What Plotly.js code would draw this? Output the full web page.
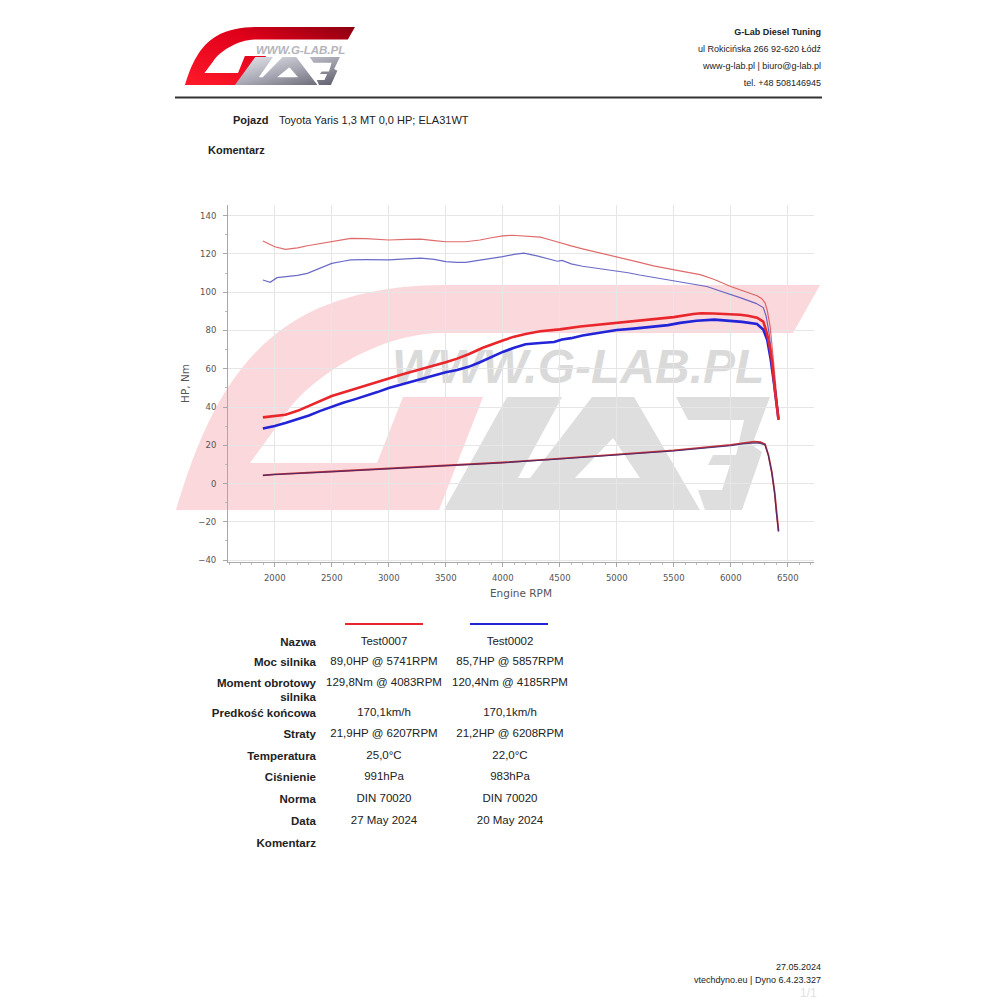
<!DOCTYPE html>
<html>
<head>
<meta charset="utf-8">
<script src="https://cdn.plot.ly/plotly-3.0.1.min.js"></script>
<style>
  html, body { margin:0; padding:0; background:#fff; }
  #page { position:relative; width:1000px; height:1000px; overflow:hidden; background:#fff; font-family:"Liberation Sans", Arial, sans-serif; color:#222; }
  #deco { position:absolute; left:0; top:0; }
  #plot { position:absolute; left:0; top:0; width:1000px; height:1000px; }
  .t { position:absolute; white-space:nowrap; line-height:1; }
  .r { text-align:right; }
  .c { text-align:center; }
  .b { font-weight:bold; }
</style>
</head>
<body>
<div id="page">
<svg id="deco" width="1000" height="1000" viewBox="0 0 1000 1000">
  <defs>
    <linearGradient id="gRed" x1="0" y1="1" x2="1" y2="0">
      <stop offset="0" stop-color="#ff1a2a"/>
      <stop offset="0.6" stop-color="#e0001a"/>
      <stop offset="1" stop-color="#8a0010"/>
    </linearGradient>
    <linearGradient id="gGray" x1="0" y1="0" x2="1" y2="1">
      <stop offset="0" stop-color="#e8e8ee"/>
      <stop offset="0.5" stop-color="#a8a8b4"/>
      <stop offset="1" stop-color="#5c5c6a"/>
    </linearGradient>
    <path id="pG" d="M176,510 C200,430 230,360 296,320 C335,296 390,285 443,285 L820,285 L793,333 L440,333 C375,334 305,382 285,415 L250,463 L377,463 L403,397 L483,397 L439,510 Z"/>
    <path id="pLAB" d="M507,397 L562,397 L518,478 L640,478 L613,438 L575,478 L530,478 L592,397 L634,397 L700,510 L444,510 Z
             M676,397 L770,397 L752,445 L762,452 L742,510 L705,510 L698,490 L722,490 L730,465 L708,465 L713,455 L736,455 L744,420 L688,420 Z"/>
  </defs>
  <!-- watermark -->
  <use href="#pG" fill="#fbd8db"/>
  <use href="#pLAB" fill="#dedede"/>
  <text x="392" y="383" font-family="Liberation Sans, Arial, sans-serif" font-size="48" font-weight="bold" font-style="italic" fill="#dadada">WWW.G-LAB.PL</text>
  <!-- header logo -->
  <g transform="translate(138.5,-46.5) scale(0.264,0.258)">
    <use href="#pG" fill="url(#gRed)"/>
  </g>
  <g transform="translate(92,-41.4) scale(0.322,0.248)">
    <use href="#pLAB" fill="url(#gGray)"/>
  </g>
  <text x="256" y="54" font-family="Liberation Sans, Arial, sans-serif" font-size="11.5" font-weight="bold" font-style="italic" fill="#b4b4bc">WWW.G-LAB.PL</text>
  <!-- header rule -->
  <line x1="175" y1="97.5" x2="822" y2="97.5" stroke="#333" stroke-width="2"/>
  <!-- legend lines in table -->
  <line x1="345" y1="624" x2="423" y2="624" stroke="#e8262b" stroke-width="2"/>
  <line x1="470" y1="624" x2="548" y2="624" stroke="#2323d8" stroke-width="2"/>
</svg>

<div id="plot"></div>

<!-- header texts -->
<div class="t r b" style="right:179px; top:28px; font-size:9px;">G-Lab Diesel Tuning</div>
<div class="t r" style="right:179px; top:45px; font-size:9px;">ul Rokicińska 266 92-620 Łódź</div>
<div class="t r" style="right:179px; top:62px; font-size:9px;">www-g-lab.pl | biuro@g-lab.pl</div>
<div class="t r" style="right:179px; top:79px; font-size:9px;">tel. +48 508146945</div>

<div class="t b" style="left:233px; top:115px; font-size:11px;">Pojazd</div>
<div class="t" style="left:279px; top:115px; font-size:11px;">Toyota Yaris 1,3 MT 0,0 HP; ELA31WT</div>
<div class="t b" style="left:208px; top:145px; font-size:11px;">Komentarz</div>

<div id="table"></div>

<!-- footer -->
<div class="t r" style="right:179px; top:963px; font-size:9px;">27.05.2024</div>
<div class="t r" style="right:179px; top:976px; font-size:9px;">vtechdyno.eu | Dyno 6.4.23.327</div>
<div class="t" style="left:800px; top:987px; font-size:12px; color:#e2e2e2;">1/1</div>
</div>

<script>
// ---------------- DATA ----------------
const rpmTorqueRed = [1896,1950,2000,2094,2200,2286,2400,2500,2600,2667,2800,3000,3150,3280,3400,3500,3675,3800,3900,4000,4083,4200,4330,4420,4500,4600,4700,4800,4900,5000,5100,5200,5322,5450,5600,5731,5850,6000,6100,6230,6270,6300,6320,6345,6370,6395,6419];
const torqueRed    = [126.8,125.3,123.8,122.4,123.2,124.3,125.4,126.4,127.6,128.2,128.0,127.3,127.6,127.8,127.0,126.4,126.4,127.3,128.5,129.5,129.8,129.3,128.8,127.3,125.8,124.2,122.7,121.3,120.0,118.8,117.2,115.6,113.8,112.2,110.6,109.2,106.8,103.0,100.8,98.2,96.8,94.5,90.5,82.0,67.0,49.0,35.0];

const rpmTorqueBlue = [1896,1960,2020,2100,2200,2286,2400,2500,2600,2667,2800,3000,3150,3280,3400,3500,3600,3675,3800,3900,4000,4100,4185,4300,4400,4480,4520,4600,4700,4800,4900,5000,5100,5200,5350,5500,5650,5790,5900,6000,6100,6220,6285,6310,6335,6360,6390,6419];
const torqueBlue    = [106.4,105.2,107.6,108.2,108.8,109.9,112.5,115.1,116.2,116.9,117.0,116.9,117.4,117.8,117.2,116.0,115.6,115.6,116.8,117.6,118.6,119.8,120.4,119.0,117.4,116.2,116.6,114.8,113.6,112.8,111.8,111.2,110.2,109.0,107.5,106.0,104.6,103.0,100.8,98.6,96.8,94.2,92.0,87.5,79.0,67.0,50.0,34.0];

const rpmPowerRed = [1896,2000,2094,2200,2300,2400,2500,2600,2700,2800,2900,3000,3100,3200,3300,3400,3500,3600,3700,3825,3900,4000,4100,4200,4329,4500,4680,4850,5031,5200,5322,5500,5672,5741,5848,6000,6082,6150,6230,6285,6317,6340,6360,6385,6405,6419];
const powerRed    = [34.6,35.4,36.0,38.0,40.5,43.0,45.8,47.6,49.5,51.3,53.2,55.1,56.8,58.4,60.0,61.6,63.4,65.3,67.6,71.0,72.8,74.8,76.8,78.2,79.6,80.6,82.1,83.1,84.0,84.9,85.6,87.0,88.6,89.0,88.9,88.5,88.2,87.7,86.7,84.6,78.7,72.0,64.6,50.0,40.0,33.3];

const rpmPowerBlue = [1896,2000,2100,2200,2300,2400,2500,2600,2700,2800,2900,3000,3100,3200,3300,3400,3500,3600,3700,3800,3900,4000,4100,4200,4329,4450,4520,4600,4700,4850,5000,5150,5322,5450,5556,5700,5857,6000,6100,6230,6285,6320,6350,6380,6400,6419];
const powerBlue    = [28.8,30.1,31.8,33.5,35.6,38.0,40.3,42.2,44.0,45.8,47.8,49.9,51.6,53.2,54.9,56.6,58.2,59.4,61.0,63.4,66.2,68.8,71.0,72.8,73.5,74.0,75.3,76.0,77.4,79.0,80.3,81.0,82.0,82.8,84.0,85.1,85.7,85.0,84.5,83.4,80.5,75.0,65.0,52.0,42.0,33.5];

const rpmLoss  = [1896,2000,2500,3000,3500,4000,4500,5000,5500,6000,6100,6207,6260,6300,6330,6360,6385,6400,6419];
const lossRed  = [4.3,4.8,6.3,7.8,9.4,11.0,13.0,15.0,17.3,20.2,21.2,21.9,21.6,20.6,15.0,6.0,-4.8,-15.0,-25.0];
const lossBlue = [4.3,4.7,6.2,7.7,9.3,10.9,12.8,14.8,17.0,19.8,20.7,21.2,21.0,20.2,14.6,5.6,-5.2,-15.4,-25.0];

const rowLabels = ["Nazwa","Moc silnika","Moment obrotowy<br>silnika","Predkość końcowa","Straty","Temperatura","Ciśnienie","Norma","Data","Komentarz"];
const colRed    = ["Test0007","89,0HP @ 5741RPM","129,8Nm @ 4083RPM","170,1km/h","21,9HP @ 6207RPM","25,0°C","991hPa","DIN 70020","27 May 2024",""];
const colBlue   = ["Test0002","85,7HP @ 5857RPM","120,4Nm @ 4185RPM","170,1km/h","21,2HP @ 6208RPM","22,0°C","983hPa","DIN 70020","20 May 2024",""];

const xTickStep = 500;
const yTickStep = 20;

// ---------------- TABLE ----------------
const rowY = [641.7,662.3,683.3,713,734.3,756.3,777.3,799,821,843];
let html = "";
rowLabels.forEach((lab, i) => {
  const y = rowY[i] - 6;
  html += `<div class="t r b" style="right:684px; top:${y}px; font-size:11.5px; line-height:13.5px;">${lab}</div>`;
  html += `<div class="t c" style="left:304px; width:160px; top:${y}px; font-size:11.5px;">${colRed[i]}</div>`;
  html += `<div class="t c" style="left:430px; width:160px; top:${y}px; font-size:11.5px;">${colBlue[i]}</div>`;
});
document.getElementById("table").innerHTML = html;

// ---------------- CHART ----------------
const traces = [
  {x: rpmTorqueRed, y: torqueRed, mode:"lines", line:{color:"rgba(215,70,70,0.8)", width:1.2}, name:"Test0007 Nm"},
  {x: rpmTorqueBlue, y: torqueBlue, mode:"lines", line:{color:"rgba(70,70,185,0.8)", width:1.2}, name:"Test0002 Nm"},
  {x: rpmPowerBlue, y: powerBlue, mode:"lines", line:{color:"#2323d8", width:2.6}, name:"Test0002 HP"},
  {x: rpmPowerRed, y: powerRed, mode:"lines", line:{color:"#e8262b", width:2.6}, name:"Test0007 HP"},
  {x: rpmLoss, y: lossRed, mode:"lines", line:{color:"#c2323c", width:1.8}, name:"Test0007 straty"},
  {x: rpmLoss, y: lossBlue, mode:"lines", line:{color:"rgba(60,40,110,0.85)", width:1.1}, name:"Test0002 straty"}
];

const axisFont = {family:"DejaVu Sans, Verdana, sans-serif", size:8.5, color:"#555"};
const titleFont = {family:"DejaVu Sans, Verdana, sans-serif", size:10.5, color:"#555"};

const layout = {
  width:1000, height:1000,
  margin:{l:228, r:186, t:205, b:438, pad:0},
  paper_bgcolor:"rgba(0,0,0,0)",
  plot_bgcolor:"rgba(0,0,0,0)",
  showlegend:false,
  xaxis:{
    range:[1590,6730], tickmode:"linear", tick0:0, dtick:xTickStep,
    showgrid:true, gridcolor:"#e6e6e6", gridwidth:1,
    showline:true, linecolor:"#a8a8a8", linewidth:1,
    ticks:"outside", ticklen:4, tickcolor:"#a8a8a8", ticklabelstandoff:4,
    minor:{dtick:100, ticks:"outside", ticklen:2, tickcolor:"#bbb", showgrid:false},
    zeroline:false, tickfont:axisFont,
    title:{text:"Engine RPM", font:titleFont, standoff:7},
    automargin:false, fixedrange:true
  },
  yaxis:{
    range:[-41,145.6], tickmode:"linear", tick0:0, dtick:yTickStep,
    showgrid:true, gridcolor:"#e6e6e6", gridwidth:1,
    showline:true, linecolor:"#a8a8a8", linewidth:1,
    ticks:"outside", ticklen:4, tickcolor:"#a8a8a8", ticklabelstandoff:5,
    minor:{dtick:10, ticks:"outside", ticklen:2, tickcolor:"#bbb", showgrid:false},
    zeroline:false, tickfont:axisFont,
    title:{text:"HP, Nm", font:titleFont, standoff:6},
    automargin:false, fixedrange:true
  }
};

Plotly.newPlot("plot", traces, layout, {staticPlot:true, displayModeBar:false});
</script>
</body>
</html>
